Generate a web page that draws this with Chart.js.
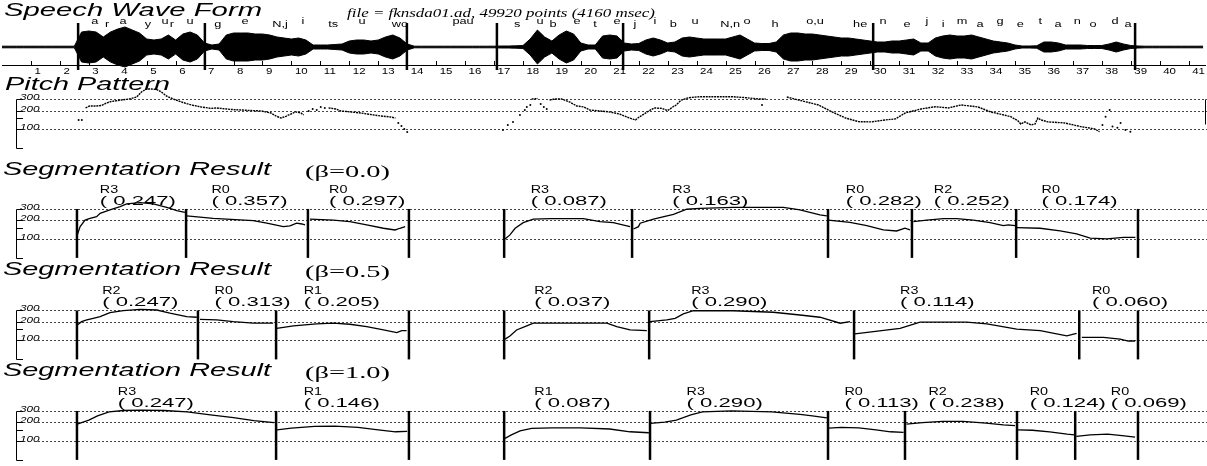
<!DOCTYPE html>
<html>
<head>
<meta charset="utf-8">
<title>Segmentation result</title>
<script src="https://cdn.jsdelivr.net/npm/chart.js@4.4.1/dist/chart.umd.min.js"></script>
<style>
  html, body { margin: 0; padding: 0; background: #fff; }
  #page { position: relative; width: 1207px; height: 466px; overflow: hidden; }
  #page canvas { position: absolute; left: 0; top: 0; }
</style>
</head>
<body>
<div id="page">
  <canvas id="wave" width="1207" height="466"></canvas>
  <canvas id="pitch" width="1207" height="466"></canvas>
  <canvas id="seg00" width="1207" height="466"></canvas>
  <canvas id="seg05" width="1207" height="466"></canvas>
  <canvas id="seg10" width="1207" height="466"></canvas>
</div>
<script>
const TOTAL_MS = 4160;

// waveform envelope: half amplitude every 25 ms
const waveStepMs = 25;
const waveAmp = [
  0.8, 0.8, 0.8, 0.8, 0.8, 0.8, 0.8, 0.8, 0.8, 0.8, 0.8,
  15, 16, 15, 10, 15, 18, 20, 17, 14, 8, 7, 8, 12, 7, 13, 15, 12, 4,
  2, 3, 12, 14, 14, 14, 13, 13, 12, 10, 9, 8, 9, 7, 2, 2, 2, 2.5, 3, 6, 7, 7, 6, 7, 10, 12, 9, 3,
  0.8, 0.8, 0.8, 0.8, 0.8, 0.8, 0.8, 0.8, 0.8, 0.8, 0.8, 0.8,
  1, 1, 1.2, 1.5, 8, 17, 10, 6, 12, 16, 13, 4, 2, 2, 11, 12, 11, 4,
  3, 3.5, 7, 9, 7, 4, 5, 9, 10, 9, 8, 8, 8, 8, 10, 12, 8, 4, 3.5, 3.5, 5, 12, 14, 14, 13, 13, 12, 11, 10, 9, 9, 8, 7, 6,
  5, 5, 6, 6, 7, 8, 4, 4, 9, 11, 12, 11, 11, 12, 10, 8, 6, 5, 4, 2, 1, 1, 1.2, 5, 5, 4, 2, 2, 2, 1.5, 1.5, 1.5, 3, 5, 3, 1.5, 1,
  0.8, 0.8, 0.8, 0.8, 0.8, 0.8, 0.8, 0.8, 0.8
];
const waveBounds = [263, 701, 1399, 1710, 2146, 3010, 3915];

const phonemes = ['a','r','a','y','u','r','u','g','e','N,j','i','ts','u','wo','pau','s','u','b','e','t','e',
  'j','i','b','u','N,n','o','h','o,u','he','n','e','j','i','m','a','g','e','t','a','n','o','d','a'];
const phonemeMs = [321,363,418,504,563,587,650,746,840,961,1040,1144,1244,1375,1593,1780,1859,1904,1987,2049,2125,
  2187,2256,2319,2395,2516,2574,2671,2809,2965,3044,3127,3196,3252,3317,3379,3448,3518,3587,3649,3715,3770,3846,3891];

// pitch track (Hz), null = unvoiced break
const pitchMs = [283,297,321,339,356,373,408,435,460,477,494,511,529,546,563,587,615,650,684,719,736,753,788,822,857,892,926,943,961,978,995,1012,1030,1040, 1080,
  1126,1151,1168,1202,1237,1272,1306,1341,1358, 1600,
  1831,1852, 1870,
  1893,1910,1934,1962,1987,2011,2032,2066,2101,2136,2160,2180,2191,2204,2232,2256,2284,2301,2312,2315,2332,2350,2377,2412,2464,2526,2574,2619,2643, 2680,
  2716,2757,2826,2871,2920,2965,3010,3058,3093,3127,3182,3231,3276,3321,3379,3424,3493,3518,3528,3542,3563,3577,3587,3597,3622,3680,3736,3784,3801];
const pitchHz = [220,236,236,241,264,279,294,305,328,395,440,440,433,395,341,305,274,245,228,216,220,216,208,204,200,197,183,164,152,162,176,190,183,170, null,
  220,212,197,190,183,173,164,158,152, null,
  305,310, null,
  294,305,305,274,236,228,204,197,190,176,158,147,142,158,190,220,216,200,212,220,245,294,320,332,332,332,320,305,305, null,
  328,294,245,192,152,133,132,142,147,183,212,230,220,245,228,190,160,137,122,132,118,122,152,142,132,127,111,102,92];
const pitchDotMs = [259,270,1057,1071,1085,1099,1113,1368,1379,1389,1399,1731,1748,1766,1790,1807,1814,1826,1862,1873,1883,2630,3811,3822,3836,3846,3863,3874,3891,3908];
const pitchDotHz = [142,142,197,212,204,228,220,127,114,102,91,98,118,132,170,204,228,245,254,228,212,245,118,160,204,111,106,127,98,92];

// beta = 0.0
const b00Ms = [260,270,287,304,327,339,373,408,431,477,523,569,604,632, 634,
  638,730,868,915,972,995,1018,1036,1047, 1055,
  1064,1145,1202,1260,1318,1358,1375,1393, 1500,
  1738,1755,1773,1801,1836,1894,2009,2066,2112,2170, 2176,
  2182,2199,2205,2251,2320,2366,2412,2527,2700,2757,2826,2850, 2852,
  2855,2930,2988,3045,3091,3120,3137, 3142,
  3149,3195,3253,3299,3356,3414,3460,3477,3500, 3503,
  3506,3587,3656,3713,3760,3817,3875,3916];
const b00Hz = [116,157,200,213,226,256,289,326,360,378,360,319,282,265, null,
  232,213,196,178,157,161,178,173,167, null,
  206,200,188,167,148,139,148,157, null,
  100,116,148,182,206,210,210,188,182,157, null,
  144,157,178,206,247,297,307,319,319,289,241,232, null,
  200,184,163,139,134,148,139, null,
  188,200,210,210,200,182,163,167,163, null,
  151,148,134,120,103,100,106,106];
const b00Start = [259, 636, 1057, 1735, 2177, 2854, 3144, 3504];
const b00End = [636, 1057, 1406, 2177, 2854, 3144, 3504, 3925];
const b00Model = ['R3', 'R0', 'R0', 'R3', 'R3', 'R0', 'R2', 'R0'];
const b00Score = [0.247, 0.357, 0.297, 0.087, 0.163, 0.282, 0.252, 0.174];

// beta = 0.5
const b05Ms = [260,275,293,315,339,373,419,477,535,580,638,673, 678,
  684,742,799,868,937, 942,
  949,1007,1087,1145,1202,1260,1318,1364,1381,1398, 1500,
  1738,1755,1778,1813,1836,1951,2090,2124,2170,2228, 2236,
  2239,2297,2326,2354,2389,2527,2665,2757,2826,2896,2930, 2940,
  2947,3103,3172,3333,3403,3506,3587,3679,3713, 3722,
  3731,3806,3863,3892,3915];
const b05Hz = [176,199,212,225,239,277,298,313,305,271,239,234, null,
  217,212,199,188,188, null,
  156,170,183,188,181,166,147,133,143,143, null,
  105,118,147,170,188,188,188,166,147,143, null,
  199,212,225,264,297,297,281,254,234,188,199, null,
  127,156,195,195,183,152,143,118,130, null,
  112,112,105,98,98];
const b05Start = [259, 677, 947, 1735, 2236, 2944, 3722];
const b05End = [677, 947, 1406, 2236, 2944, 3722, 3925];
const b05Model = ['R2', 'R0', 'R1', 'R2', 'R3', 'R3', 'R0'];
const b05Score = [0.247, 0.313, 0.205, 0.037, 0.290, 0.114, 0.060];

// beta = 1.0
const b10Ms = [260,280,300,330,370,420,480,560,640,720,800,870,940, 945,
  950,1000,1080,1150,1230,1300,1360,1400, 1500,
  1738,1760,1790,1830,1900,2000,2100,2170,2235, 2237,
  2240,2290,2330,2380,2420,2520,2660,2757,2800,2850, 2853,
  2856,2900,2960,3020,3070,3115, 3118,
  3125,3180,3250,3320,3400,3460,3500, 3505,
  3510,3560,3620,3680,3705, 3707,
  3712,3760,3820,3870,3915];
const b10Hz = [185,200,215,250,290,305,310,305,290,260,235,210,195, null,
  150,160,170,172,165,150,140,142, null,
  110,125,145,158,162,162,155,140,135, null,
  190,200,215,260,290,300,290,265,250,232, null,
  160,165,162,150,140,137, null,
  185,195,205,205,192,180,175, null,
  150,148,140,128,125, null,
  118,125,128,122,115];
const b10Start = [259, 947, 1735, 2239, 2854, 3120, 3507, 3708];
const b10End = [947, 1406, 2239, 2854, 3120, 3507, 3708, 3925];
const b10Model = ['R3', 'R1', 'R1', 'R3', 'R0', 'R2', 'R0', 'R0'];
const b10Score = [0.247, 0.146, 0.087, 0.290, 0.113, 0.238, 0.124, 0.069];

const W = 1207, H = 466;
const HZ_SCALE = { type: 'logarithmic', min: 50, max: 500 };
const DECADE_PX = 62.9;

// text squeezed/stretched horizontally, like the scanned figure
function say(ctx, s, x, y, font, sx, align) {
  ctx.save();
  ctx.font = font;
  const w = ctx.measureText(s).width * sx;
  const x0 = align === 'center' ? x - w / 2 : align === 'right' ? x - w : x;
  ctx.translate(x0, y);
  ctx.scale(sx, 1);
  ctx.textAlign = 'left';
  ctx.textBaseline = 'alphabetic';
  ctx.fillStyle = '#000';
  ctx.fillText(s, 0, 0);
  ctx.restore();
  return w;
}

function sayFit(ctx, s, x, y, font, width) {
  ctx.save();
  ctx.font = font;
  const sx = width / ctx.measureText(s).width;
  ctx.restore();
  say(ctx, s, x, y, font, sx);
}

function pts(ms, vals) {
  return ms.map((x, i) => ({ x, y: vals[i] }));
}

function makeChart(id, top, bottom, yScale, datasets, deco) {
  return new Chart(document.getElementById(id), {
    type: 'line',
    data: { datasets },
    options: {
      responsive: false,
      animation: false,
      devicePixelRatio: 1,
      events: [],
      layout: { padding: { left: 2, right: 1, top: top, bottom: H - bottom } },
      scales: {
        x: { type: 'linear', min: 0, max: TOTAL_MS, display: false },
        y: Object.assign({ display: false }, yScale)
      },
      elements: { point: { radius: 0 }, line: { tension: 0 } },
      plugins: { legend: { display: false }, tooltip: { enabled: false } }
    },
    plugins: [{
      id: 'deco',
      beforeDatasetsDraw: c => { if (deco.before) deco.before(c); },
      afterDraw: c => { if (deco.after) deco.after(c); }
    }]
  });
}

function hzGrid(c) {
  const ctx = c.ctx, y = c.scales.y;
  ctx.save();
  ctx.strokeStyle = '#444';
  ctx.lineWidth = 1;
  ctx.setLineDash([2, 2]);
  [300, 200, 100].forEach(v => {
    const py = Math.round(y.getPixelForValue(v)) + 0.5;
    ctx.beginPath(); ctx.moveTo(38, py); ctx.lineTo(W, py); ctx.stroke();
  });
  ctx.restore();
}

function hzAxis(c) {
  const ctx = c.ctx, y = c.scales.y;
  ctx.save();
  ctx.strokeStyle = '#000';
  ctx.lineWidth = 1;
  const top = Math.round(y.getPixelForValue(300)) + 0.5;
  const bot = Math.round(y.getPixelForValue(50)) + 0.5;
  ctx.beginPath();
  ctx.moveTo(16.5, top); ctx.lineTo(16.5, bot);
  [300, 200, 150, 100, 50].forEach(v => {
    const py = Math.round(y.getPixelForValue(v)) + 0.5;
    ctx.moveTo(16.5, py); ctx.lineTo(23, py);
  });
  ctx.stroke();
  [300, 200, 100].forEach(v => say(ctx, String(v), 20, Math.round(y.getPixelForValue(v)) + 0.5, 'italic 9px "Liberation Sans"', 1.3));
  ctx.restore();
}

// ---- waveform ----
makeChart('wave', 25, 69, { type: 'linear', min: -22, max: 22 }, [
  { data: waveAmp.map((a, i) => ({ x: i * waveStepMs, y: a })), borderColor: '#000', borderWidth: 1, backgroundColor: '#000', fill: '+1' },
  { data: waveAmp.map((a, i) => ({ x: i * waveStepMs, y: -a })), borderColor: '#000', borderWidth: 1, fill: false }
], {
  after: c => {
    const ctx = c.ctx, x = c.scales.x;
    sayFit(ctx, 'Speech Wave Form', 4, 16, 'italic 18px "Liberation Sans"', 258);
    sayFit(ctx, 'file = fknsda01.ad, 49920 points (4160 msec)', 347, 17, 'italic 12px "Liberation Serif"', 308);
    phonemes.forEach((p, i) => say(ctx, p, x.getPixelForValue(phonemeMs[i]), i % 2 ? 27 : 24, '8.5px "Liberation Sans"', 1.5, 'center'));
    ctx.save();
    ctx.strokeStyle = '#000';
    ctx.lineWidth = 1;
    ctx.beginPath();
    ctx.moveTo(2, 65.5); ctx.lineTo(1206, 65.5);
    for (let n = 1; n <= 41; n++) {
      const px = Math.round(x.getPixelForValue(n * 100)) + 0.5;
      ctx.moveTo(px, 61); ctx.lineTo(px, 65.5);
    }
    ctx.stroke();
    for (let n = 1; n <= 41; n++) {
      say(ctx, String(n), x.getPixelForValue(n * 100) + 3.5, 73.5, '8.5px "Liberation Sans"', 1.35);
    }
    ctx.lineWidth = 2.5;
    waveBounds.forEach(t => {
      const px = x.getPixelForValue(t);
      ctx.beginPath(); ctx.moveTo(px, 23); ctx.lineTo(px, 70); ctx.stroke();
    });
    ctx.restore();
  }
});

// ---- pitch pattern ----
const PITCH_BOTTOM = 148.4;
makeChart('pitch', PITCH_BOTTOM - DECADE_PX, PITCH_BOTTOM, HZ_SCALE, [
  { data: pts(pitchMs, pitchHz), borderColor: '#000', borderWidth: 1.4, borderDash: [2, 0.8], spanGaps: false },
  { data: pts(pitchDotMs, pitchDotHz), showLine: false, pointRadius: 1, pointBackgroundColor: '#000', pointBorderWidth: 0 }
], {
  before: hzGrid,
  after: c => {
    const ctx = c.ctx, y = c.scales.y;
    hzAxis(c);
    sayFit(ctx, 'Pitch Pattern', 5, 90, 'italic 18px "Liberation Sans"', 165);
    ctx.save();
    ctx.strokeStyle = '#000';
    ctx.beginPath();
    ctx.moveTo(1205.5, y.getPixelForValue(300)); ctx.lineTo(1205.5, y.getPixelForValue(120));
    ctx.stroke();
    ctx.restore();
  }
});

// ---- segmentation results ----
function segPanel(id, bottom, ms, hz, starts, ends, models, scores, beta, titleY) {
  const bounds = [...new Set(starts.concat(ends))];
  makeChart(id, bottom - DECADE_PX, bottom, HZ_SCALE, [
    { data: pts(ms, hz), borderColor: '#000', borderWidth: 1.3, spanGaps: false }
  ], {
    before: hzGrid,
    after: c => {
      const ctx = c.ctx, x = c.scales.x, y = c.scales.y;
      hzAxis(c);
      sayFit(ctx, 'Segmentation Result', 3, titleY, 'italic 18px "Liberation Sans"', 268);
      sayFit(ctx, '(\u03b2=' + beta.toFixed(1) + ')', 305, titleY + 1.5, '16px "Liberation Serif"', 85);
      const y300 = y.getPixelForValue(300), y50 = y.getPixelForValue(50);
      ctx.save();
      ctx.strokeStyle = '#000';
      ctx.lineWidth = 2.5;
      bounds.forEach(t => {
        const px = x.getPixelForValue(t);
        ctx.beginPath(); ctx.moveTo(px, y300); ctx.lineTo(px, y50); ctx.stroke();
      });
      ctx.restore();
      // labels sit a fifth into their segment, pushed right if they would overlap
      let lastRight = -Infinity;
      starts.forEach((s, i) => {
        const a = x.getPixelForValue(s), b = x.getPixelForValue(ends[i]);
        const lx = Math.max(a + 0.2 * (b - a) + 1, lastRight + 5);
        say(ctx, models[i], lx, y300 - 16, '11.5px "Liberation Sans"', 1.25);
        lastRight = lx + say(ctx, '( ' + scores[i].toFixed(3) + ')', lx, y300 - 4, '13px "Liberation Sans"', 1.7);
      });
    }
  });
}

segPanel('seg00', 257.9, b00Ms, b00Hz, b00Start, b00End, b00Model, b00Score, 0.0, 175);
segPanel('seg05', 359.4, b05Ms, b05Hz, b05Start, b05End, b05Model, b05Score, 0.5, 275);
segPanel('seg10', 459.9, b10Ms, b10Hz, b10Start, b10End, b10Model, b10Score, 1.0, 376);
</script>
</body>
</html>
